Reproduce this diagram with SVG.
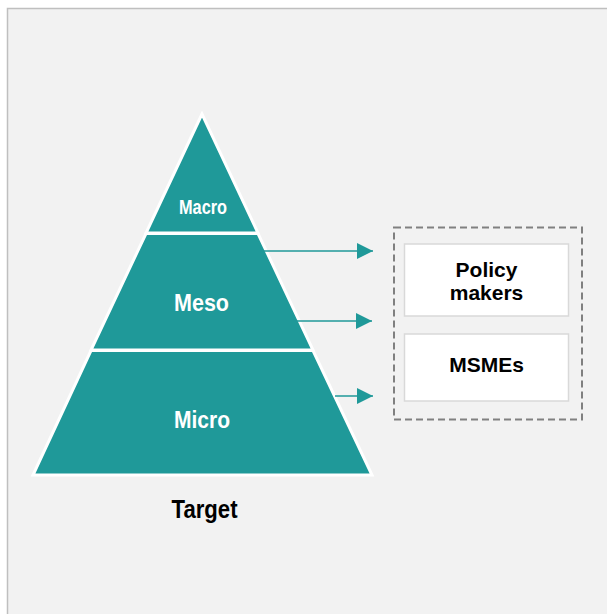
<svg xmlns="http://www.w3.org/2000/svg" width="607" height="614" viewBox="0 0 607 614">
<defs>
<style>
.seg{fill:#1f9999;stroke:#ffffff;stroke-width:3;stroke-linejoin:miter}
.plab{font-family:"Liberation Sans Narrow","Liberation Sans",Arial,sans-serif;font-weight:bold;fill:#ffffff;text-anchor:middle}
.box{fill:#ffffff;stroke:#d9d9d9;stroke-width:1.5}
.blab{font-family:"Liberation Sans",Arial,sans-serif;font-weight:bold;font-size:21px;fill:#000000;text-anchor:middle}
.conn{stroke:#1f9999;stroke-width:1.5;fill:none}
</style>
<marker id="ah" markerUnits="userSpaceOnUse" markerWidth="17" markerHeight="17" refX="16" refY="8" orient="auto">
<path d="M0,0 L16,8 L0,16 z" fill="#1f9999"/>
</marker>
</defs>
<rect x="0" y="0" width="607" height="614" fill="#ffffff"/>
<rect x="7.5" y="8.5" width="620" height="630" fill="#f2f2f2" stroke="#bfbfbf" stroke-width="1.5"/>
<g id="macro">
<polygon class="seg" points="202,114 146,233 258,233"/>
<text class="plab" x="203" y="213.5" font-size="19.5" textLength="48" lengthAdjust="spacingAndGlyphs">Macro</text>
</g>
<g id="meso">
<polygon class="seg" points="146,233.5 258,233.5 313,350 91,350"/>
<text class="plab" x="201.5" y="311" font-size="24" textLength="55" lengthAdjust="spacingAndGlyphs">Meso</text>
</g>
<g id="micro">
<polygon class="seg" points="91,350.5 313,350.5 372,475 33,475"/>
<text class="plab" x="202" y="428" font-size="24.5" textLength="56" lengthAdjust="spacingAndGlyphs">Micro</text>
</g>
<g id="target">
<text x="204.5" y="518" font-family="Liberation Sans Narrow,Liberation Sans,Arial,sans-serif" font-weight="bold" font-size="26" fill="#000000" text-anchor="middle" textLength="66" lengthAdjust="spacingAndGlyphs">Target</text>
</g>
<g id="group">
<rect x="394" y="227.5" width="188" height="192" fill="none" stroke="#808080" stroke-width="2" stroke-dasharray="7,4"/>
</g>
<g id="policy-makers">
<rect class="box" x="404.5" y="244" width="164" height="72"/>
<text class="blab" x="486.5" y="277">Policy</text>
<text class="blab" x="486.5" y="299.5">makers</text>
</g>
<g id="msmes">
<rect class="box" x="404.5" y="334" width="164" height="67"/>
<text class="blab" x="486.5" y="372">MSMEs</text>
</g>
<g id="connectors">
<line class="conn" x1="263" y1="251" x2="373" y2="251" marker-end="url(#ah)"/>
<line class="conn" x1="297" y1="321" x2="372" y2="321" marker-end="url(#ah)"/>
<line class="conn" x1="335" y1="396" x2="373" y2="396" marker-end="url(#ah)"/>
</g>
</svg>
